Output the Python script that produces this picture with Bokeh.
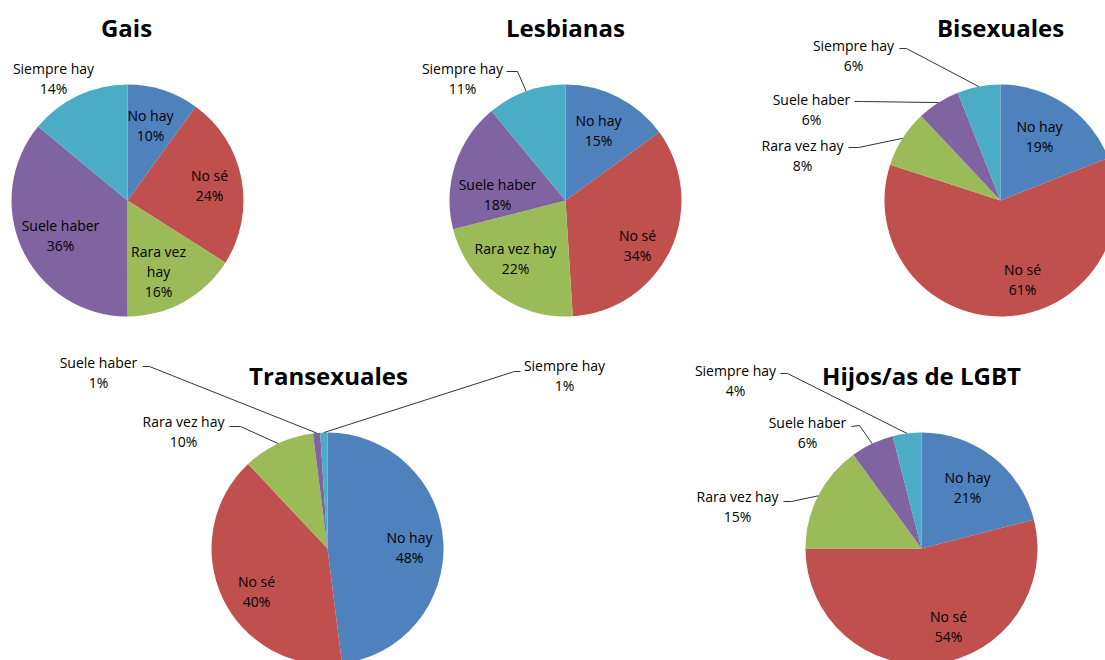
import math
from bokeh.plotting import figure
from bokeh.models import Range1d
from bokeh.core.properties import value
from bokeh.embed import file_html
from bokeh.resources import INLINE

# ---------------- data ----------------
categories = ["No hay", "No sé", "Rara vez hay", "Suele haber", "Siempre hay"]
titles = ["Gais", "Lesbianas", "Bisexuales", "Transexuales", "Hijos/as de LGBT"]
gais = [10, 24, 16, 36, 14]
lesbianas = [15, 34, 22, 18, 11]
bisexuales = [19, 61, 8, 6, 6]
transexuales = [48, 40, 10, 1, 1]
hijos = [21, 54, 15, 6, 4]
series = [gais, lesbianas, bisexuales, transexuales, hijos]

# ---------------- styles / layout (page pixel coords, y downward) ----------------
colors = ["#4F81BD", "#C0504D", "#9BBB59", "#8064A2", "#4BACC6"]
W, H = 1105, 660
M = 0
R = 116
centers = [(127, 200), (565, 200), (1000, 200), (327, 548), (921, 548)]
title_pos = [(126, 27), (565, 27), (1000, 27), (328, 375), (921, 375)]

# per chart, per category: (x, y, wrap, leader[start, elbow] or None)
label_layout = [
    [(150, 125, False, None), (209, 185, False, None), (158, 271, True, None),
     (60, 235, False, None), (53, 78, False, None)],
    [(598, 130, False, None), (637, 245, False, None), (515, 258, False, None),
     (497, 194, False, None), (462, 78, False, [(506, 71), (517, 71)])],
    [(1039, 136, False, None), (1022, 279, False, None),
     (802, 155, False, [(848, 147), (858, 147)]),
     (811, 109, False, [(854, 101), (862, 101)]),
     (853, 55, False, [(899, 48), (906, 48)])],
    [(409, 547, False, None), (256, 591, False, None),
     (183, 431, False, [(229, 426), (240, 426)]),
     (98, 372, False, [(142, 366), (149, 366)]),
     (564, 375, False, [(520, 371), (514, 371)])],
    [(967, 487, False, None), (948, 626, False, None),
     (737, 506, False, [(783, 501), (791, 501)]),
     (807, 432, False, [(851, 426), (859, 425)]),
     (735, 380, False, [(780, 373), (787, 373)])],
]

p = figure(width=W, height=H, output_backend="svg", toolbar_location=None,
           x_range=Range1d(M, M + W), y_range=Range1d(-(M + H), -M),
           x_axis_type=None, y_axis_type=None, min_border=0)
p.outline_line_color = None
p.grid.visible = False
p.background_fill_color = "white"
p.border_fill_color = "white"

FONT = value("Open Sans")

for ci, vals in enumerate(series):
    cx, cy = centers[ci]
    total = float(sum(vals))
    cum = 0.0
    sa, ea, mids = [], [], []
    for v in vals:
        s = cum / total
        e = (cum + v) / total
        sa.append(math.pi / 2 - 2 * math.pi * s)
        ea.append(math.pi / 2 - 2 * math.pi * e)
        mids.append(2 * math.pi * (s + e) / 2)  # clockwise from top
        cum += v
    p.wedge(x=[cx] * len(vals), y=[-cy] * len(vals), radius=R,
            start_angle=sa, end_angle=ea, direction="clock",
            fill_color=colors, line_color=None)

    # labels
    lx, ly, lt = [], [], []
    lxs, lys = [], []
    for k, (cat, v) in enumerate(zip(categories, vals)):
        x, y, wrap, leader = label_layout[ci][k]
        name = cat
        if wrap:
            i = name.rfind(" ")
            name = name[:i] + "\n" + name[i + 1:]
        lx.append(x)
        ly.append(-y)
        lt.append(f"{name}\n{v}%")
        if leader:
            th = mids[k]
            px = cx + R * math.sin(th)
            py = cy - R * math.cos(th)
            (x0, y0), (x1, y1) = leader
            lxs.append([x0, x1, px])
            lys.append([-y0, -y1, -py])
    if lxs:
        p.multi_line(xs=lxs, ys=lys, line_color="#333333", line_width=1)
    p.text(x=lx, y=ly, text=lt, text_font=FONT, text_font_size="14px",
           text_align="center", text_baseline="middle", text_line_height=1.03,
           text_color="black")

    tx, ty = title_pos[ci]
    p.text(x=[tx], y=[-ty], text=[titles[ci]], text_font=FONT,
           text_font_size="24px", text_font_style="bold",
           text_align="center", text_baseline="middle", text_color="black")

open("out.html", "w").write(file_html(p, INLINE))
